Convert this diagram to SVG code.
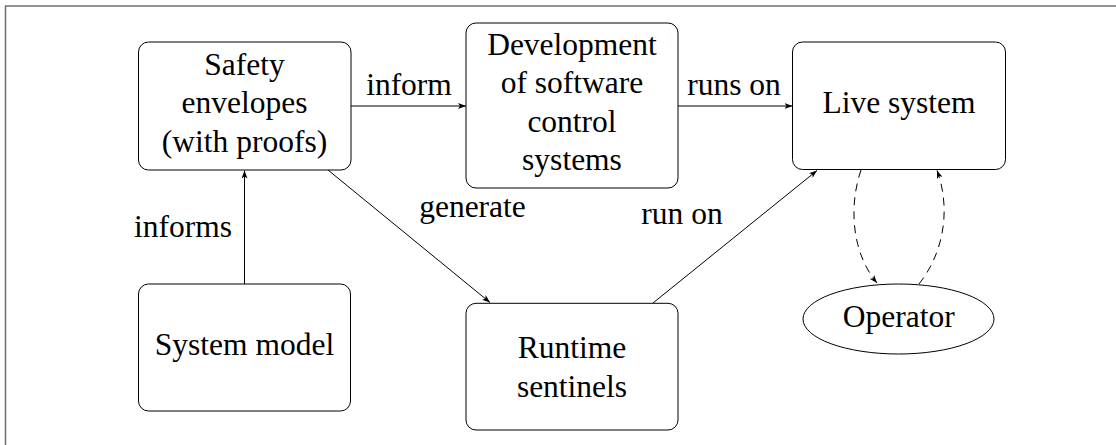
<svg xmlns="http://www.w3.org/2000/svg" width="1116" height="445" viewBox="0 0 1116 445">
<style>
  .frame{fill:none;stroke:#707070;stroke-width:1.5}
  .box{fill:#fff;stroke:#000;stroke-width:1}
  .t{font-family:"Liberation Serif","Times New Roman",serif;font-size:31.5px;fill:#000;text-anchor:middle}
  .c{fill:none;stroke:#000;stroke-width:1}
  .d{stroke-dasharray:8 6}
</style>
<defs>
  <marker id="ah" viewBox="0 0 8 6" markerWidth="8" markerHeight="6" refX="8" refY="3" orient="auto" markerUnits="userSpaceOnUse">
    <path d="M0,0 L8,3 L0,6 L2,3 Z" fill="#000"/>
  </marker>
</defs>
<rect class="frame" x="5.5" y="6" width="1130" height="460"/>
<g id="connectors">
  <line class="c" x1="244.5" y1="284" x2="244.5" y2="170.5" marker-end="url(#ah)"/>
  <line class="c" x1="351" y1="106" x2="466" y2="106" marker-end="url(#ah)"/>
  <line class="c" x1="678" y1="106" x2="792.5" y2="106" marker-end="url(#ah)"/>
  <line class="c" x1="328" y1="170" x2="490" y2="302.5" marker-end="url(#ah)"/>
  <line class="c" x1="653" y1="303" x2="817" y2="170.5" marker-end="url(#ah)"/>
  <path class="c d" d="M861,170 C849,205 851,252 877,283" marker-end="url(#ah)"/>
  <path class="c d" d="M919,284 C946,250 950,205 937,170.5" marker-end="url(#ah)"/>
  <text class="t" x="409" y="95">inform</text>
  <text class="t" x="734" y="95">runs on</text>
  <text class="t" x="183" y="237">informs</text>
  <text class="t" x="472.5" y="216.7">generate</text>
  <text class="t" x="682" y="224.3">run on</text>
</g>
<g id="safety">
  <rect class="box" x="138.5" y="42" width="212.5" height="128" rx="10"/>
  <text class="t" x="244.5" y="75">Safety</text>
  <text class="t" x="244.5" y="113.3">envelopes</text>
  <text class="t" x="244.5" y="151.7">(with proofs)</text>
</g>
<g id="development">
  <rect class="box" x="466" y="23" width="212" height="165" rx="10"/>
  <text class="t" x="572" y="55">Development</text>
  <text class="t" x="572" y="93.3">of software</text>
  <text class="t" x="572" y="131.6">control</text>
  <text class="t" x="572" y="169.9">systems</text>
</g>
<g id="live">
  <rect class="box" x="792.5" y="42" width="213" height="127.5" rx="10"/>
  <text class="t" x="899" y="112.7">Live system</text>
</g>
<g id="model">
  <rect class="box" x="138.5" y="284" width="212" height="127" rx="10"/>
  <text class="t" x="244.5" y="355">System model</text>
</g>
<g id="runtime">
  <rect class="box" x="466" y="303.3" width="212" height="126.7" rx="10"/>
  <text class="t" x="572" y="358.3">Runtime</text>
  <text class="t" x="572" y="397.3">sentinels</text>
</g>
<g id="operator">
  <ellipse class="box" cx="898.5" cy="319" rx="95.5" ry="35"/>
  <text class="t" x="898.8" y="326.7">Operator</text>
</g>
</svg>
